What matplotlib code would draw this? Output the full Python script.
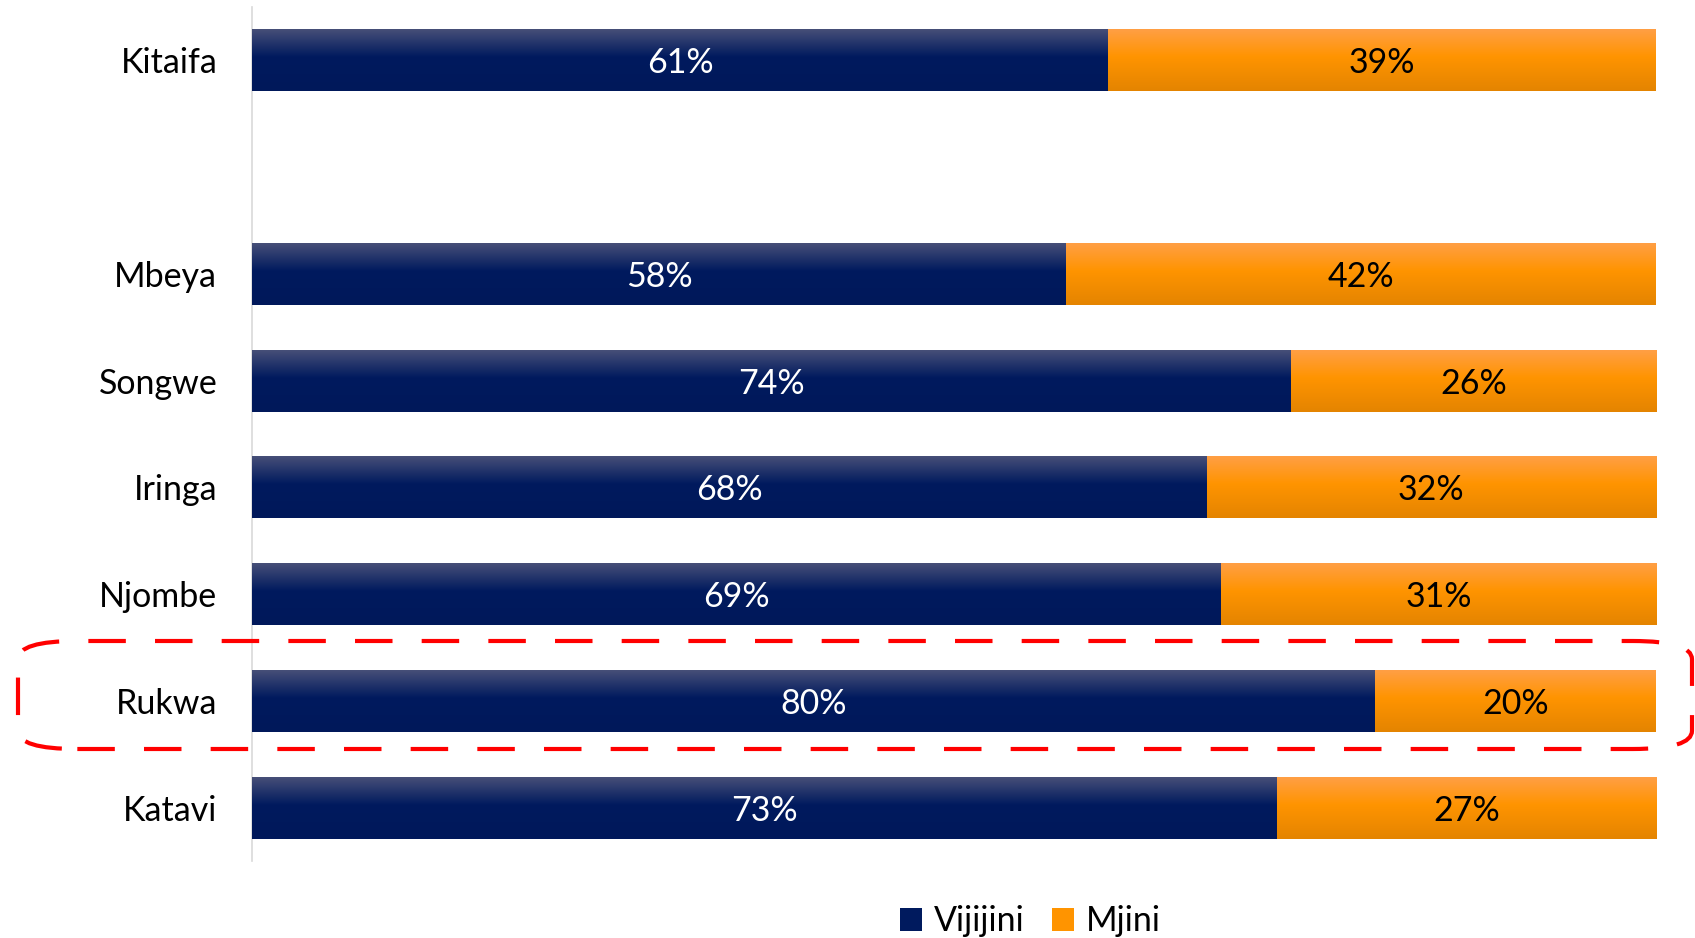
import matplotlib
matplotlib.use("Agg")
import matplotlib.pyplot as plt
import numpy as np
from matplotlib.colors import LinearSegmentedColormap
from matplotlib.patches import FancyBboxPatch, Patch

categories = ["Kitaifa", "", "Mbeya", "Songwe", "Iringa", "Njombe", "Rukwa", "Katavi"]
vijijini = [61, None, 58, 74, 68, 69, 80, 73]
mjini = [39, None, 42, 26, 32, 31, 20, 27]
series_names = ["Vijijini", "Mjini"]

navy = "#001A5E"
orange = "#FF9400"

plt.rcParams['font.family'] = ['Lato', 'DejaVu Sans']
FS = 24.5

fig = plt.figure(figsize=(16.95, 9.38), dpi=100)
ax = fig.add_axes([0.1487, 0.082, 0.977 - 0.1487, 0.9105])

pos = [i for i, v in enumerate(vijijini) if v is not None]
v_vals = [vijijini[i] for i in pos]
m_vals = [mjini[i] for i in pos]

h = 0.58
bars_v = ax.barh(pos, v_vals, height=h, color=navy, zorder=2)
bars_m = ax.barh(pos, m_vals, left=v_vals, height=h, color=orange, zorder=2)

cmap_v = LinearSegmentedColormap.from_list("nv", [(0, "#474F78"), (0.45, "#001A5E"), (1, "#00185A")])
cmap_m = LinearSegmentedColormap.from_list("or", [(0, "#FF9F45"), (0.45, "#FF9400"), (1, "#E48400")])
grad = np.linspace(0, 1, 256).reshape(-1, 1)

for bars, cm in ((bars_v, cmap_v), (bars_m, cmap_m)):
    for p in bars:
        x0, y0, w, hh = p.get_x(), p.get_y(), p.get_width(), p.get_height()
        ax.imshow(grad, cmap=cm, aspect='auto', origin='upper',
                  extent=(x0, x0 + w, y0 + hh, y0), zorder=3, interpolation='bilinear')

for p, v in zip(bars_v, v_vals):
    ax.text(p.get_x() + p.get_width() / 2, p.get_y() + p.get_height() / 2, f"{v}%",
            ha='center', va='center_baseline', color='white', fontsize=FS, zorder=5)
for p, v in zip(bars_m, m_vals):
    ax.text(p.get_x() + p.get_width() / 2, p.get_y() + p.get_height() / 2, f"{v}%",
            ha='center', va='center_baseline', color='black', fontsize=FS, zorder=5)

ax.set_xlim(0, 100)
ax.set_ylim(7.5, -0.5)
ax.set_yticks(range(len(categories)))
ax.set_yticklabels(categories, fontsize=FS)
ax.tick_params(axis='y', length=0, pad=25)
ax.set_xticks([])
for s in ("top", "right", "bottom"):
    ax.spines[s].set_visible(False)
ax.spines["left"].set_color("#D9D9D9")
ax.spines["left"].set_linewidth(1.2)

handles = [Patch(facecolor=navy, label=series_names[0]), Patch(facecolor=orange, label=series_names[1])]
fig.legend(handles=handles, loc='center', bbox_to_anchor=(0.608, 0.018), ncol=2,
           frameon=False, fontsize=FS, handlelength=0.65, handleheight=0.65,
           handletextpad=0.35, columnspacing=0.8)

# red dashed rounded box around Rukwa (figure pixel coords)
W, H = 1695, 938
x0, x1 = 18 / W, 1692 / W
y_top, y_bot = 1 - 641 / H, 1 - 749 / H
box = FancyBboxPatch((x0, y_bot), x1 - x0, y_top - y_bot,
                     boxstyle="round,pad=0,rounding_size=0.035",
                     transform=fig.transFigure, fill=False, edgecolor="#FF0000",
                     linewidth=3, linestyle=(0, (9, 7)), zorder=10,
                     mutation_aspect=H / W)
fig.patches.append(box)

fig.savefig("out.png", dpi=100)
